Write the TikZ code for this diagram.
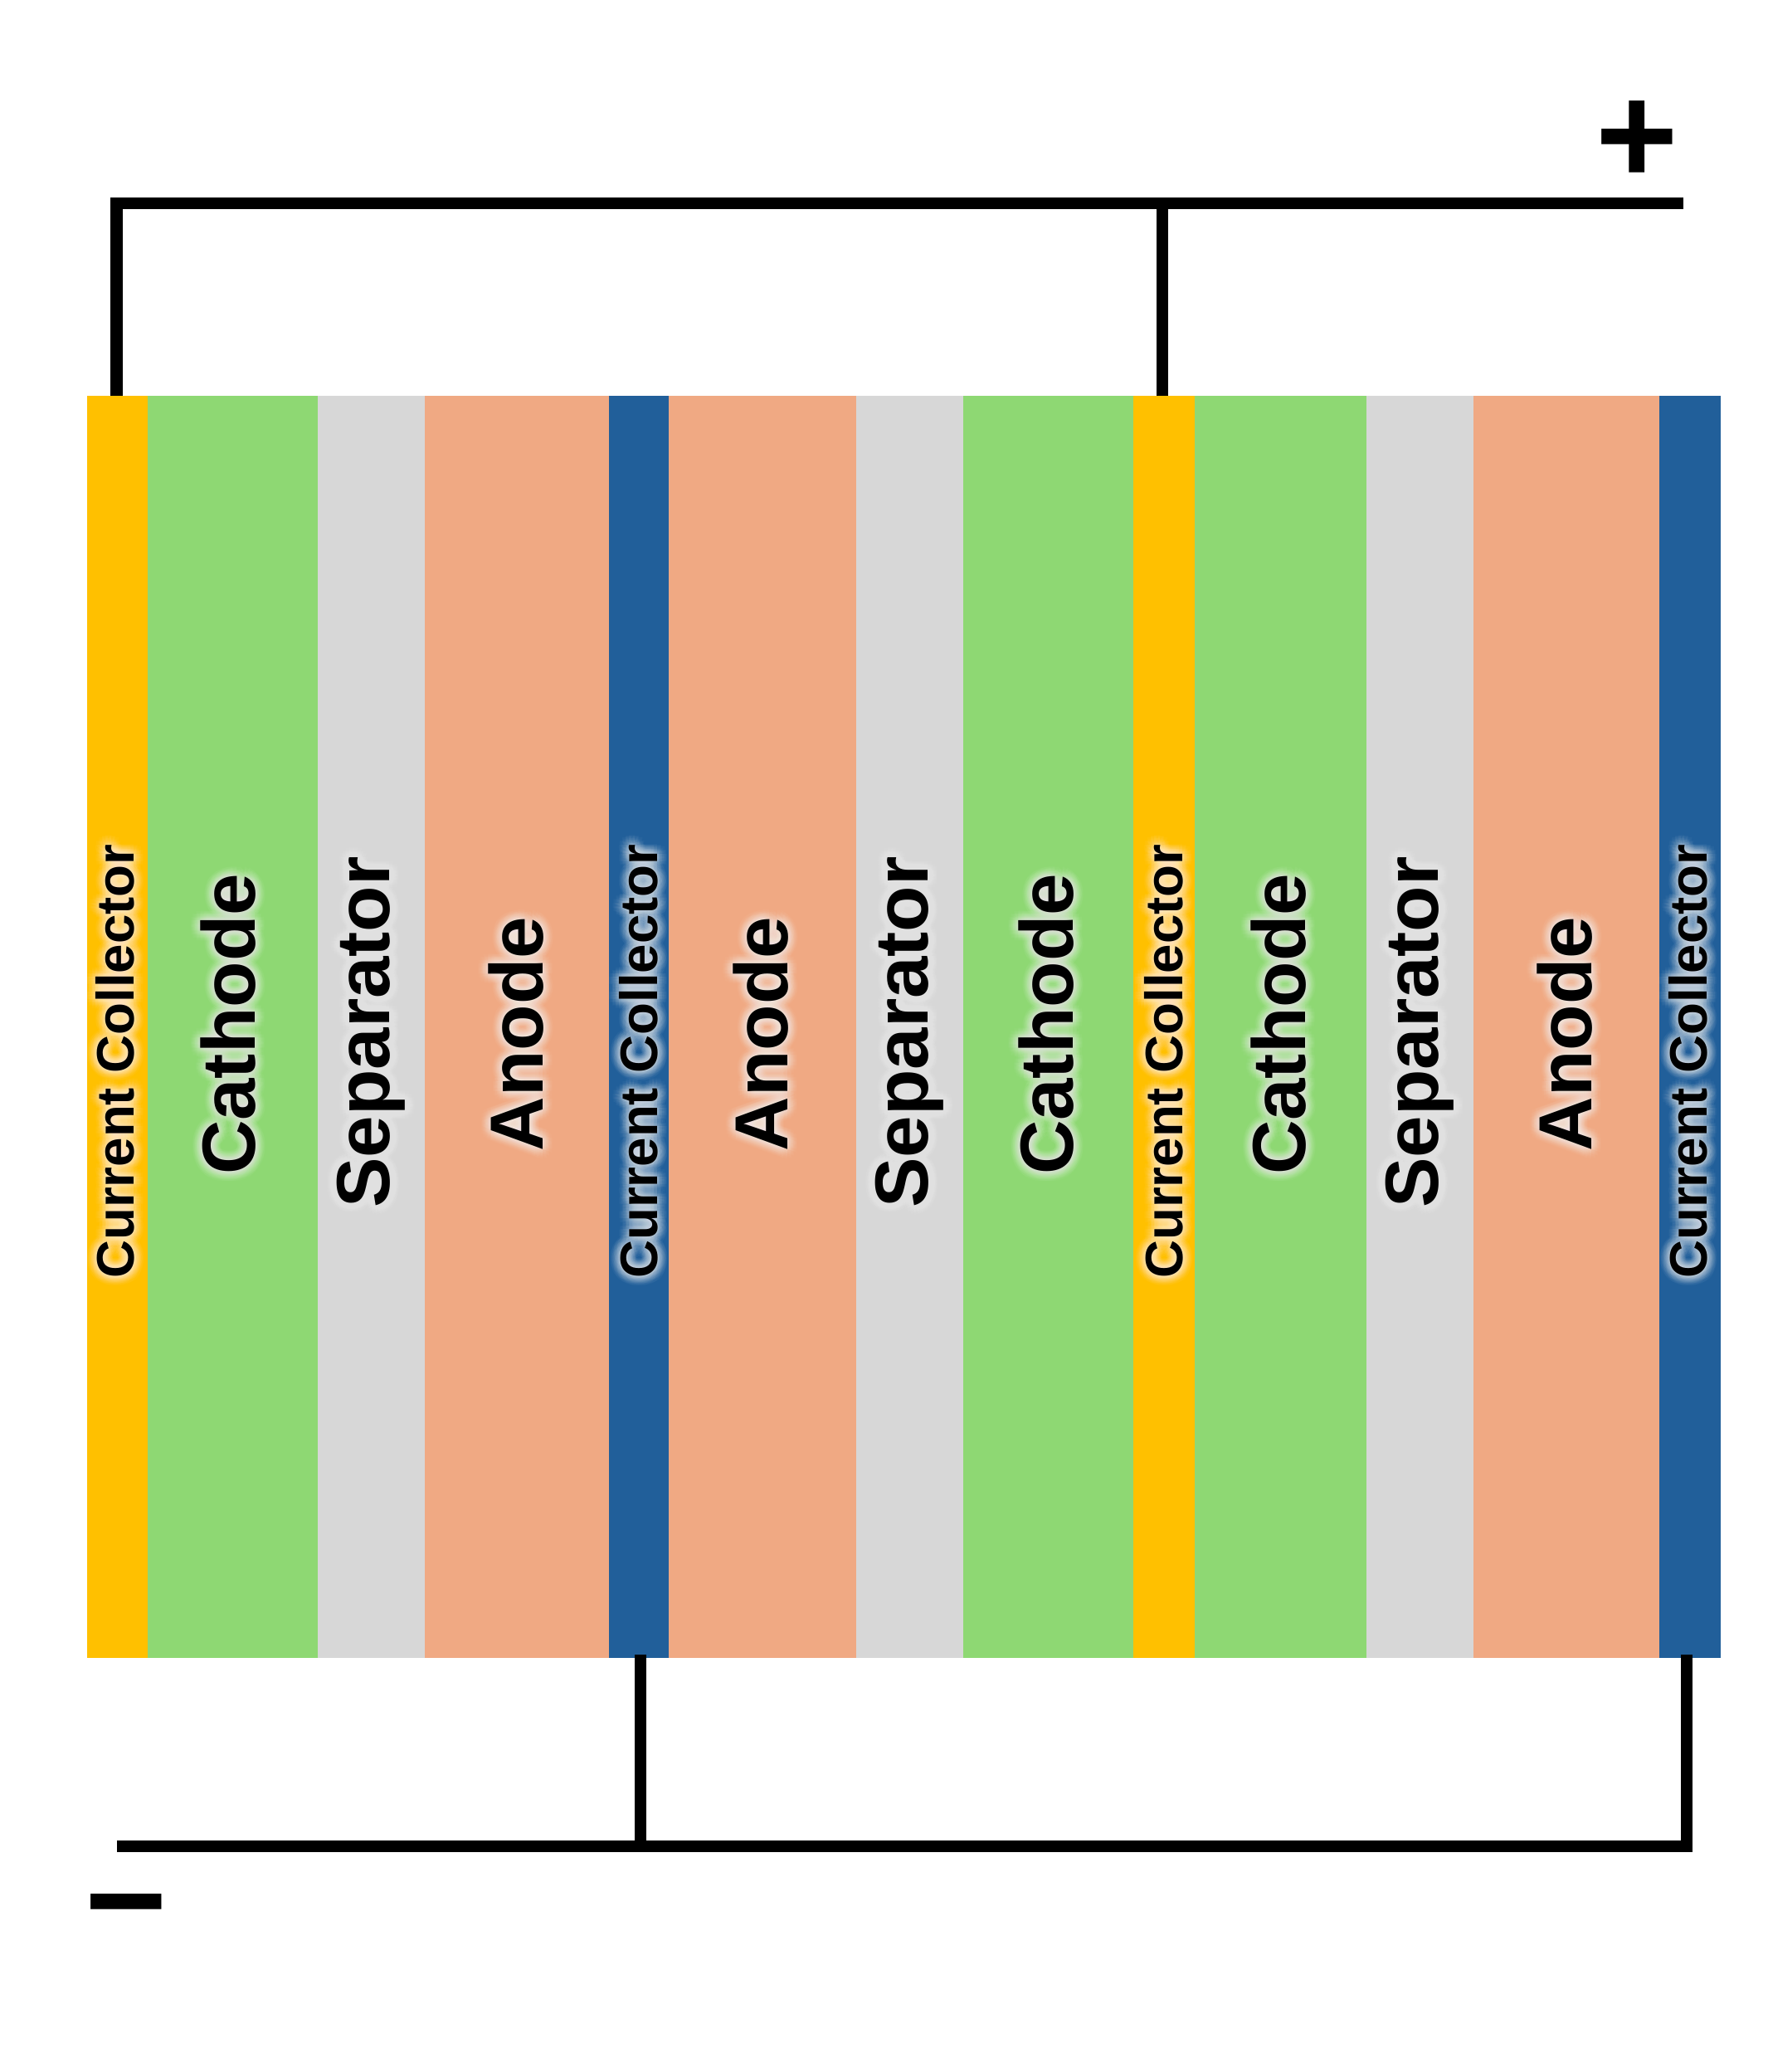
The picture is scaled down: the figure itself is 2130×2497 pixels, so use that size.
\documentclass[tikz,border=0pt]{standalone}
\usepackage{fontspec}
\setmainfont{Liberation Sans}
\usetikzlibrary{calc}
\definecolor{ccyellow}{HTML}{FFC000}
\definecolor{cathgreen}{HTML}{8ED873}
\definecolor{sepgrey}{HTML}{D7D7D7}
\definecolor{anodesal}{HTML}{F0A983}
\definecolor{ccblue}{HTML}{215F9A}
\newcommand{\ccfont}{\fontsize{18.1}{20}\selectfont\bfseries}
\newcommand{\bigfont}{\fontsize{25.8}{28}\selectfont\bfseries}
\newcommand{\signfont}{\fontsize{48.4}{50}\selectfont\bfseries}
\newcommand{\layerstrip}[4]{%
  \node[layer, fill=#4, minimum width={(#3-#2+1)*0.01cm}] (#1) at ({(#2+#3+1)/2},1237.5) {};}
\newcommand{\glowlbl}[5]{%
  \foreach \rr in {2,4,6,8,10,12}{\foreach \aa in {0,22.5,...,337.5}{%
    \node[glowcopy,font=#4] (#1-\rr-\aa) at ({#2+\rr*cos(\aa)},{#3+\rr*sin(\aa)}) {#5};}}
  \node[lbl,font=#4] (#1) at (#2,#3) {#5};}
\begin{document}
\begin{tikzpicture}[x=0.01cm,y=-0.01cm,
  layer/.style={rectangle,inner sep=0,outer sep=0,draw=none,minimum height=15.21cm},
  lbl/.style={rotate=90,inner sep=0,outer sep=0,text=black},
  glowcopy/.style={rotate=90,inner sep=0,outer sep=0,text=white,text opacity=0.032},
  wire/.style={line width=0.14cm,line cap=butt,line join=miter,draw=black},
  sign/.style={inner sep=0,outer sep=0,font=\signfont,text=black}]
\fill[white] (0,0) rectangle (2130,2497);
\useasboundingbox (0,0) rectangle (2130,2497);
% layers
\layerstrip{cc1}{105}{178}{ccyellow}
\layerstrip{cat1}{178}{383}{cathgreen}
\layerstrip{sep1}{383}{512}{sepgrey}
\layerstrip{an1}{512}{734}{anodesal}
\layerstrip{cc2}{734}{806}{ccblue}
\layerstrip{an2}{806}{1032}{anodesal}
\layerstrip{sep2}{1032}{1161}{sepgrey}
\layerstrip{cat2}{1161}{1366}{cathgreen}
\layerstrip{cc3}{1366}{1440}{ccyellow}
\layerstrip{cat3}{1440}{1647}{cathgreen}
\layerstrip{sep3}{1647}{1776}{sepgrey}
\layerstrip{an3}{1776}{2000}{anodesal}
\layerstrip{cc4}{2000}{2073}{ccblue}
% labels
\glowlbl{tcc1}{139}{1279}{\ccfont}{Current Collector}
\glowlbl{tcat1}{275}{1234.5}{\bigfont}{Cathode}
\glowlbl{tsep1}{447.5}{1244}{\bigfont}{Separator}
\glowlbl{tan1}{622}{1246}{\bigfont}{Anode}
\glowlbl{tcc2}{770}{1279}{\ccfont}{Current Collector}
\glowlbl{tan2}{917}{1246}{\bigfont}{Anode}
\glowlbl{tsep2}{1096.5}{1244}{\bigfont}{Separator}
\glowlbl{tcat2}{1261}{1234.5}{\bigfont}{Cathode}
\glowlbl{tcc3}{1403}{1279}{\ccfont}{Current Collector}
\glowlbl{tcat3}{1541}{1234.5}{\bigfont}{Cathode}
\glowlbl{tsep3}{1711.5}{1244}{\bigfont}{Separator}
\glowlbl{tan3}{1886}{1246}{\bigfont}{Anode}
\glowlbl{tcc4}{2035}{1279}{\ccfont}{Current Collector}
% wiring
\coordinate (ptop) at (2029,245);
\coordinate (nbot) at (141,2225);
\coordinate (t1) at ($(cc1.north)+(-1.5,0)$);
\coordinate (t3) at ($(cc3.north)+(-3,0)$);
\coordinate (b2) at ($(cc2.south)+(1.5,-4)$);
\coordinate (b4) at ($(cc4.south)+(-4.5,-4)$);
\draw[wire] (t1) |- (ptop);
\draw[wire] (t3) -- (t3 |- ptop);
\draw[wire] (nbot) -| (b4);
\draw[wire] (b2) -- (b2 |- nbot);
% terminals
\node[sign] (plus) at (1973.5,171.5) {+};
\node[sign] (minus) at (152.5,2315.5) {−};
\end{tikzpicture}
\end{document}
